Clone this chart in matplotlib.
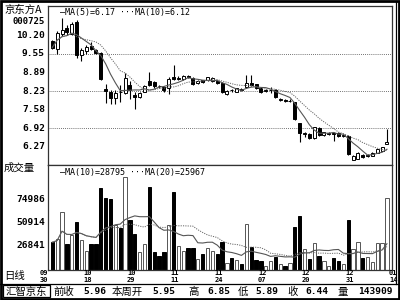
import numpy as np
import pandas as pd
import matplotlib
matplotlib.use('Agg')
import matplotlib.pyplot as plt
from matplotlib.patches import Rectangle

plt.rcParams['font.family'] = ['Noto Sans CJK SC', 'DejaVu Sans']
MONO = 'DejaVu Sans Mono'

# daily candles
opens = [10.00, 9.72, 10.26, 10.46, 10.26, 10.68, 9.52, 9.64, 9.85, 9.70,
         9.60, 8.30, 8.22, 7.98, 8.22, 8.18, 8.47, 8.09, 8.03, 8.22,
         8.60, 8.55, 8.42, 8.38, 8.35, 8.74, 8.68, 8.67, 8.78, 8.69,
         8.51, 8.62, 8.62, 8.60, 8.58, 8.53, 8.12, 8.28, 8.21, 8.31,
         8.39, 8.52, 8.48, 8.33, 8.24, 8.26, 8.29, 7.92, 7.93, 7.88,
         7.84, 7.10, 6.72, 6.72, 6.58, 6.92, 6.68, 6.72, 6.74, 6.77,
         6.64, 6.66, 5.80, 5.84, 5.98, 5.95, 5.95, 6.06, 6.12, 6.37]
highs = [10.06, 10.35, 10.81, 10.59, 10.69, 10.75, 9.78, 9.88, 9.98, 9.72,
         9.62, 8.50, 8.26, 8.26, 8.45, 8.87, 8.59, 8.21, 8.22, 8.46,
         8.92, 8.58, 8.46, 8.40, 8.75, 9.15, 8.76, 8.80, 8.80, 8.72,
         8.62, 8.64, 8.75, 8.72, 8.62, 8.56, 8.26, 8.32, 8.36, 8.33,
         8.80, 8.82, 8.50, 8.35, 8.30, 8.38, 8.31, 8.00, 7.96, 7.94,
         7.86, 7.12, 6.80, 6.76, 6.98, 6.96, 6.80, 6.78, 6.78, 6.79,
         6.72, 6.68, 5.98, 6.08, 6.02, 6.00, 6.08, 6.20, 6.26, 6.90]
lows = [9.73, 9.55, 10.20, 10.22, 10.21, 9.40, 9.30, 9.55, 9.70, 9.55,
        8.62, 7.82, 7.78, 7.77, 7.85, 8.15, 7.97, 7.62, 7.98, 8.20,
        8.40, 8.36, 8.35, 8.22, 8.15, 8.62, 8.64, 8.64, 8.70, 8.45,
        8.48, 8.52, 8.58, 8.57, 8.50, 8.17, 8.10, 8.22, 8.19, 8.25,
        8.36, 8.42, 8.30, 8.18, 8.20, 8.16, 8.00, 7.88, 7.86, 7.84,
        7.22, 6.42, 6.62, 6.55, 6.55, 6.64, 6.65, 6.68, 6.48, 6.62,
        6.60, 5.96, 5.78, 5.82, 5.88, 5.92, 5.93, 6.04, 6.10, 6.35]
closes = [9.78, 10.30, 10.41, 10.32, 10.63, 9.52, 9.70, 9.80, 9.72, 9.58,
          8.66, 8.25, 7.98, 8.18, 8.20, 8.70, 8.28, 8.03, 8.17, 8.42,
          8.47, 8.43, 8.40, 8.28, 8.68, 8.68, 8.70, 8.77, 8.73, 8.48,
          8.59, 8.55, 8.72, 8.69, 8.52, 8.20, 8.24, 8.26, 8.33, 8.29,
          8.54, 8.46, 8.33, 8.21, 8.26, 8.28, 8.03, 7.94, 7.90, 7.90,
          7.25, 6.77, 6.74, 6.58, 6.95, 6.68, 6.78, 6.74, 6.71, 6.66,
          6.68, 6.00, 5.94, 6.05, 5.90, 5.97, 6.06, 6.18, 6.24, 6.44]
volumes = [30700, 34100, 61700, 28900, 38200, 51300, 32700, 21700, 28600, 28900,
           86500, 76100, 75100, 48500, 45100, 97800, 53700, 39200, 20300, 28600,
           87500, 20950, 16800, 20950, 48500, 82300, 26800, 21700, 25100, 25100,
           13400, 18300, 24500, 21700, 18300, 31300, 9000, 14200, 12400, 8000,
           49600, 26100, 12400, 11300, 6200, 11300, 15900, 8000, 6500, 9000,
           46200, 58200, 23700, 13400, 29600, 16800, 11300, 6500, 14800, 11700,
           8000, 53700, 23700, 30700, 14200, 15900, 10000, 29600, 29600, 76100]

date_top = ['09', '10', '10', '11', '11', '12', '12', '12', '01']
date_bot = ['30', '18', '29', '11', '24', '07', '20', '31', '14']
price_ticks = [10.20, 9.55, 8.89, 8.23, 7.58, 6.92, 6.27]
price_grid = [9.55, 8.23, 6.92]
vol_ticks = [74986, 50914, 26841]

info_labels = ['前收', '本周开', '高', '低', '收', '量']
info_values = ['5.96', '5.95', '6.85', '5.89', '6.44', '143909']

df = pd.DataFrame({'o': opens, 'h': highs, 'l': lows, 'c': closes, 'v': volumes})
df['ma5'] = df['c'].rolling(5, min_periods=1).mean()
df['ma10'] = df['c'].rolling(10, min_periods=1).mean()
df['vma10'] = df['v'].rolling(10, min_periods=1).mean()
df['vma20'] = df['v'].rolling(20, min_periods=1).mean()
up = df['c'] >= df['o']
x = np.arange(len(df))

W, H = 400, 300
fig = plt.figure(figsize=(4, 3), dpi=100)

def fx(px):
    return px / W

def fy(py):
    return 1 - py / H

ax1 = fig.add_axes([fx(48), fy(165), 344 / W, 159 / H])
ax2 = fig.add_axes([fx(48), fy(270), 344 / W, 105 / H])

# price panel
ax1.vlines(x, df['l'], df['h'], color='black', lw=0.8, zorder=2)
body_lo = np.minimum(df['o'], df['c'])
body_h = np.maximum(np.abs(df['c'] - df['o']), 0.012)
ax1.bar(x, body_h, bottom=body_lo, width=0.62,
        color=np.where(up, 'white', 'black'), edgecolor='black', lw=0.7, zorder=3)
ax1.plot(x, df['ma5'], color='#555555', lw=0.8, zorder=4)
ax1.plot(x, df['ma10'], color='#666666', lw=0.7, ls=(0, (1.2, 1.2)), zorder=4)
for g in price_grid:
    ax1.axhline(g, color='#444444', lw=0.6, ls=(0, (1, 1.5)), zorder=1)
ax1.set_ylim(5.62, 11.25)

# volume panel
ax2.bar(x, df['v'], width=0.68, color=np.where(up, 'white', 'black'),
        edgecolor=np.where(up, '#555555', 'black'), lw=0.7, zorder=2)
ax2.plot(x, df['vma10'], color='#555555', lw=0.8, zorder=3)
ax2.plot(x, df['vma20'], color='#666666', lw=0.7, ls=(0, (1.2, 1.2)), zorder=3)
ax2.set_ylim(2000, 110560)

for ax in (ax1, ax2):
    ax.set_xlim(-0.89, 70.04)
    ax.set_xticks([])
    ax.set_yticks([])
    for s in ax.spines.values():
        s.set_color('#333333')
        s.set_linewidth(0.9)

# left labels
fig.text(fx(4), fy(10), '京东方A', fontsize=7.5, va='center', ha='left')
fig.text(fx(45), fy(22), '000725', fontsize=6.5, family=MONO, weight='bold',
         va='center', ha='right')
for p in price_ticks:
    py = 54 + (9.55 - p) / 0.0354
    fig.text(fx(45), fy(py), '%.2f' % p, fontsize=6.8, family=MONO,
             weight='bold', va='center', ha='right')
fig.text(fx(4), fy(168), '成交量', fontsize=7.5, va='center', ha='left')
for v in vol_ticks:
    py = 246 - (v - 26841) / 1033.5
    fig.text(fx(45), fy(py), str(v), fontsize=6.8, family=MONO,
             weight='bold', va='center', ha='right')

# legends
fig.text(fx(60), fy(13), '—MA(5)=6.17 ···MA(10)=6.12', fontsize=6.0,
         family=MONO, va='center', ha='left')
fig.text(fx(60), fy(172), '—MA(10)=28795 ···MA(20)=25967', fontsize=6.0,
         family=MONO, va='center', ha='left')

# dates
fig.text(fx(4), fy(276), '日线', fontsize=7.5, va='center', ha='left')
for k, (a, b) in enumerate(zip(date_top, date_bot)):
    px = 52.3 + 4.85 * (9 * k - 1.7)
    fig.text(fx(px), fy(273.3), a, fontsize=5.0, family=MONO, weight='bold',
             va='center', ha='center')
    fig.text(fx(px), fy(279.7), b, fontsize=5.0, family=MONO, weight='bold',
             va='center', ha='center')

# bottom info bar
fig.add_artist(plt.Line2D([0, 1], [fy(284), fy(284)], color='black', lw=0.9))
fig.add_artist(Rectangle((fx(3), fy(297)), fx(47), 12 / H, fill=False,
                         edgecolor='black', lw=0.9))
fig.text(fx(26), fy(291.5), '汇智京东', fontsize=7.5, va='center', ha='center')
label_x = [53, 112, 188, 238, 287, 337]
value_x = [106, 175, 230, 278, 328, 393]
for lab, lx in zip(info_labels, label_x):
    fig.text(fx(lx), fy(291.5), lab, fontsize=7.5, va='center', ha='left')
for val, vx in zip(info_values, value_x):
    fig.text(fx(vx), fy(291.5), val, fontsize=6.8, family=MONO, weight='bold',
             va='center', ha='right')

# outer frame
fig.add_artist(Rectangle((0.002, 0.003), 0.995, 0.994, fill=False,
                         edgecolor='black', lw=2.0))
fig.add_artist(plt.Line2D([fx(395.5), fx(395.5)], [fy(284), fy(2)],
                          color='black', lw=0.9))

fig.savefig('out.png', dpi=100)
